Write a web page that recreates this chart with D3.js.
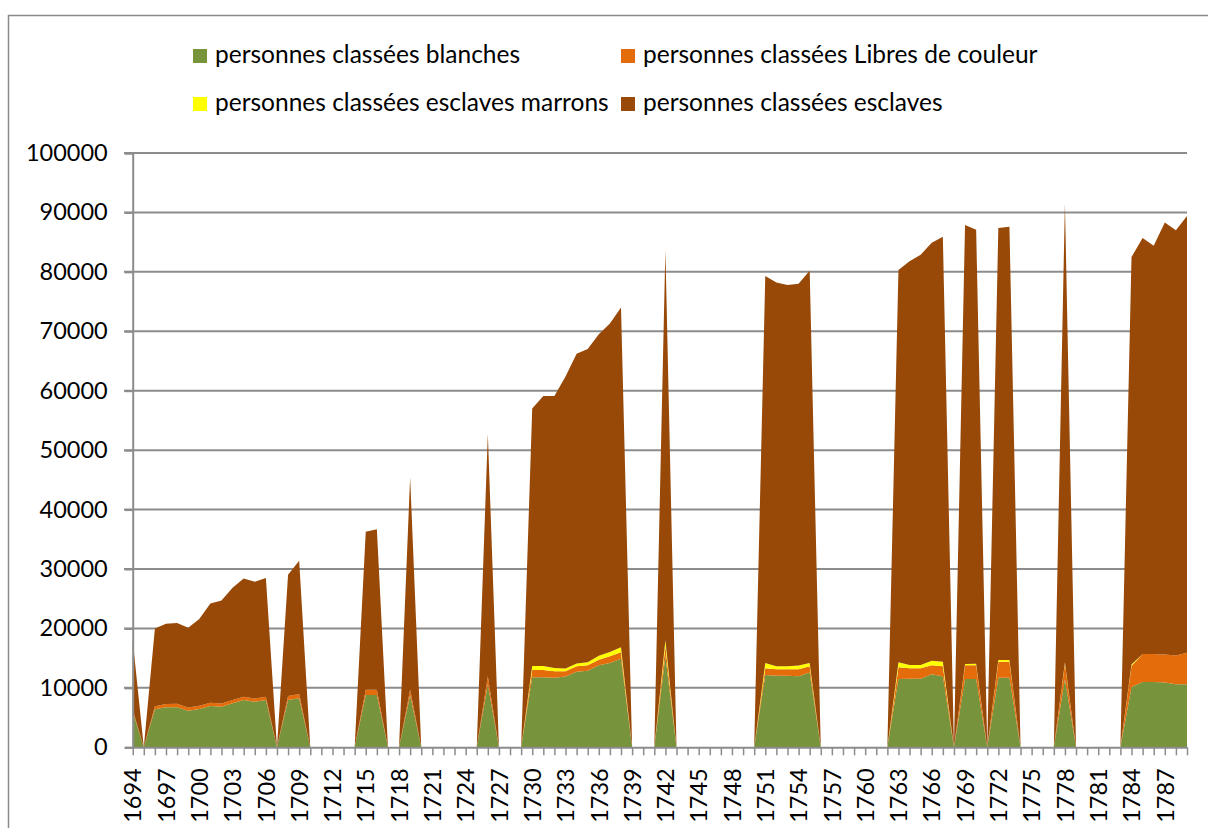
<!DOCTYPE html>
<html>
<head>
<meta charset="utf-8">
<script src="https://cdn.jsdelivr.net/npm/d3@7"></script>
<style>
  body { margin: 0; background: #fff; }
  text { font-family: Lato, "Liberation Sans", sans-serif; fill: #000; }
</style>
</head>
<body>
<div class="graphic"></div>
<script>
var width = 1208;
var height = 828;

// years 1694 .. 1789, one value per year (0 = no census that year)
var years = d3.range(1694, 1790);

var seriesNames = ["personnes classées blanches", "personnes classées Libres de couleur",
	"personnes classées esclaves marrons", "personnes classées esclaves"];
var seriesColors = ["#77933c", "#e46c0a", "#ffff00", "#984807"];

var blanches = [
	6000, 0, 6400, 6730, 6730, 6160, 6450, 6950, 6840, 7400, 7960, 7680,
	7960, 0, 7960, 8250, 0, 0, 0, 0, 0, 8800, 8800, 0,
	0, 8760, 0, 0, 0, 0, 0, 0, 10560, 0, 0, 0,
	11800, 11800, 11700, 11900, 12700, 12900, 13800, 14200, 14900, 0, 0, 0,
	15300, 0, 0, 0, 0, 0, 0, 0, 0, 12150, 12050, 12050,
	11950, 12600, 0, 0, 0, 0, 0, 0, 0, 11500, 11550, 11550,
	12300, 11950, 0, 11500, 11500, 0, 11700, 11700, 0, 0, 0, 0,
	11500, 0, 0, 0, 0, 0, 10150, 11000, 11000, 10900, 10600, 10600
];
var libres = [
	300, 0, 500, 550, 600, 550, 550, 550, 550, 550, 550, 550,
	550, 0, 680, 720, 0, 0, 0, 0, 0, 900, 900, 0,
	0, 960, 0, 0, 0, 0, 0, 0, 1400, 0, 0, 0,
	1200, 1200, 1100, 900, 950, 900, 950, 1100, 1100, 0, 0, 0,
	1700, 0, 0, 0, 0, 0, 0, 0, 0, 1150, 1100, 1100,
	1200, 1050, 0, 0, 0, 0, 0, 0, 0, 1950, 1750, 1750,
	1500, 1700, 0, 2300, 2300, 0, 2700, 2700, 0, 0, 0, 0,
	2600, 0, 0, 0, 0, 0, 3550, 4700, 4700, 4700, 4850, 5300
];
var marrons = [
	0, 0, 0, 0, 0, 0, 0, 0, 0, 0, 0, 0,
	0, 0, 0, 0, 0, 0, 0, 0, 0, 0, 0, 0,
	0, 0, 0, 0, 0, 0, 0, 0, 0, 0, 0, 0,
	700, 700, 550, 450, 450, 500, 650, 750, 850, 0, 0, 0,
	1000, 0, 0, 0, 0, 0, 0, 0, 0, 900, 500, 500,
	600, 550, 0, 0, 0, 0, 0, 0, 0, 870, 550, 550,
	750, 750, 0, 200, 250, 0, 270, 270, 0, 0, 0, 0,
	200, 0, 0, 0, 0, 0, 250, 0, 0, 0, 0, 0
];
var esclaves = [
	11700, 0, 13100, 13500, 13570, 13390, 14600, 16700, 17310, 18900, 19890, 19620,
	19990, 0, 20410, 22430, 0, 0, 0, 0, 0, 26550, 27000, 0,
	0, 35680, 0, 0, 0, 0, 0, 0, 40740, 0, 0, 0,
	43300, 45400, 45750, 49150, 52100, 52700, 54100, 55250, 57150, 0, 0, 0,
	65700, 0, 0, 0, 0, 0, 0, 0, 0, 65100, 64550, 64150,
	64250, 66000, 0, 0, 0, 0, 0, 0, 0, 65980, 67950, 69050,
	70350, 71500, 0, 73900, 73050, 0, 72730, 72930, 0, 0, 0, 0,
	77200, 0, 0, 0, 0, 0, 68550, 70000, 68700, 72700, 71550, 73500
];

var yTicks = [0, 10000, 20000, 30000, 40000, 50000, 60000, 70000, 80000, 90000, 100000];

var table = years.map(function(y, i) {
	return {year: y, s0: blanches[i], s1: libres[i], s2: marrons[i], s3: esclaves[i]};
});

var svg = d3.select("div.graphic").append("svg")
	.attr("width", width)
	.attr("height", height);

// chart frame
svg.append("rect")
	.attr("x", 8.5).attr("y", 15.5)
	.attr("width", 1220).attr("height", 840)
	.attr("fill", "none")
	.attr("stroke", "#8a8a8a")
	.attr("stroke-width", 1.5);

var x = d3.scalePoint().domain(years).range([132.7, 1187]);
var y = d3.scaleLinear().domain([0, 100000]).range([747.3, 153]);

// gridlines
svg.append("g").selectAll("line")
	.data(yTicks.slice(1))
	.enter()
	.append("line")
	.attr("x1", 124).attr("x2", 1187)
	.attr("y1", function(d) { return y(d); })
	.attr("y2", function(d) { return y(d); })
	.attr("stroke", "#8c8c8c")
	.attr("stroke-width", 2);

var stack = d3.stack().keys(["s0", "s1", "s2", "s3"]);
var layers = stack(table);

var area = d3.area()
	.x(function(d) { return x(d.data.year); })
	.y0(function(d) { return y(d[0]); })
	.y1(function(d) { return y(d[1]); });

svg.append("g").selectAll("path")
	.data(layers)
	.enter()
	.append("path")
	.attr("d", area)
	.attr("fill", function(d, i) { return seriesColors[i]; });

// y axis
var yAxis = svg.append("g")
	.attr("transform", "translate(132.7,0)")
	.call(d3.axisLeft(y).tickValues(yTicks).tickSize(8).tickPadding(17).tickFormat(d3.format("d")));
yAxis.select(".domain").attr("stroke", "#8c8c8c").attr("stroke-width", 2);
yAxis.selectAll(".tick line").attr("stroke", "#8c8c8c").attr("stroke-width", 2);
yAxis.selectAll("text").style("font-size", "23.5px").style("font-family", "Lato");

// x axis
var xAxis = svg.append("g")
	.attr("transform", "translate(0,747.3)")
	.call(d3.axisBottom(x).tickSize(8).tickSizeOuter(0)
		.tickFormat(function(d) { return (d - 1694) % 3 === 0 ? d : ""; }));
xAxis.select(".domain").attr("stroke", "#8c8c8c").attr("stroke-width", 2);
xAxis.selectAll(".tick line").attr("stroke", "#8c8c8c").attr("stroke-width", 1.5);
xAxis.selectAll("text")
	.attr("transform", "rotate(-90)")
	.attr("x", -21)
	.attr("y", 0)
	.attr("dy", "0.35em")
	.style("text-anchor", "end")
	.style("font-size", "23.5px")
	.style("font-family", "Lato");

// legend
var legendPos = [[193, 49], [621, 49], [193, 97], [621, 97]];
var legend = svg.append("g").selectAll("g")
	.data(seriesNames)
	.enter()
	.append("g")
	.attr("transform", function(d, i) { return "translate(" + legendPos[i][0] + "," + legendPos[i][1] + ")"; });
legend.append("rect")
	.attr("width", 14).attr("height", 14)
	.attr("fill", function(d, i) { return seriesColors[i]; });
legend.append("text")
	.attr("x", 22).attr("y", 14)
	.style("font-size", "24.5px")
	.text(function(d) { return d; });
</script>
</body>
</html>
